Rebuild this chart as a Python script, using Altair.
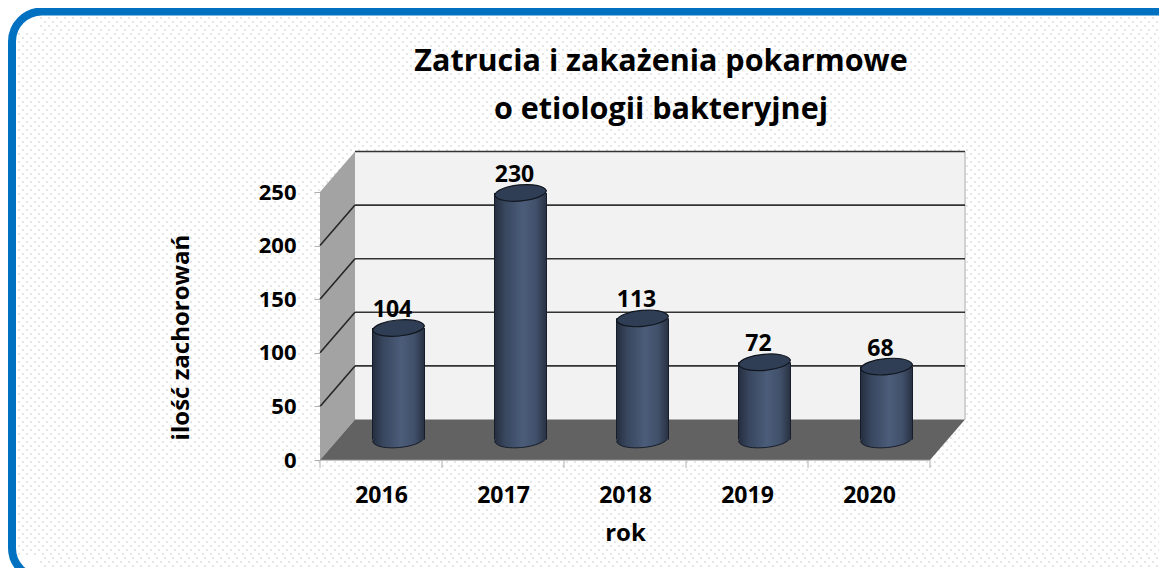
import altair as alt
import pandas as pd

years = ["2016", "2017", "2018", "2019", "2020"]
cases = [104, 230, 113, 72, 68]
grid_values = [50, 100, 150, 200, 250]
title_lines = ["Zatrucia i zakażenia pokarmowe", "o etiologii bakteryjnej"]
FONT = "Open Sans"

# geometry helpers: page pixel -> data units
PX_X, PX_Y = 122.0, 268.0 / 250.0
LEFT, BASE = 320.0, 460.0
def ux(p): return (p - LEFT) / PX_X
def uy(p): return (BASE - p) / PX_Y
DX, DY = 35 / PX_X, 40.5 / PX_Y
BW = 26 / PX_X
BASEV = 20.5 / PX_Y

sx = alt.Scale(domain=[0, 5], nice=False, zero=False)
sy = alt.Scale(domain=[0, 250], nice=False, zero=False)
tick_y = alt.Axis(values=[0] + grid_values, title="ilość zachorowań", domain=False,
                  grid=False, tickColor="#b0b0b0", tickSize=6, labelPadding=18, labelFont=FONT,
                  labelFontSize=22, labelFontWeight="bold", labelColor="black", titleFont=FONT,
                  titleFontSize=24, titleFontWeight="bold", titleColor="black", titlePadding=65,
                  titleY=145, zindex=1, labelOverlap=False)
tick_x = alt.Axis(values=[i + 0.5 for i in range(len(years))], title="rok", domain=False, grid=False,
                  ticks=False, labelPadding=24, labelFont=FONT, labelFontSize=23, labelFontWeight="bold",
                  labelColor="black", titleFont=FONT, titleFontSize=24, titleFontWeight="bold",
                  titleColor="black", titlePadding=14, zindex=1,
                  labelExpr="[" + ",".join(f"'{y}'" for y in years) + "][floor(datum.value)]")
X = lambda f="x": alt.X(f + ":Q", scale=sx, axis=tick_x)
Y = lambda f="y": alt.Y(f + ":Q", scale=sy, axis=tick_y)

def rect(df, **mk):
    return alt.Chart(pd.DataFrame(df)).mark_rect(**mk).encode(
        x=X("x"), x2="x2:Q", y=Y("y"), y2="y2:Q")

# page
page = {"x": [ux(12)], "x2": [ux(1300)], "y": [uy(11.5)], "y2": [uy(578)]}
bg = rect(page, fill="white", cornerRadius=30)
rows = []
for i, p in enumerate(range(18, 576, 4)):
    start = 40 if (p < 32 or p > 556) else 18
    rows.append({"x": ux(start + (4 if i % 2 else 0)), "x2": ux(1170), "y": uy(p)})
dots = alt.Chart(pd.DataFrame(rows)).mark_rule(
    stroke="#e6e6e6", strokeWidth=2, strokeDash=[2, 6]).encode(x=X("x"), x2="x2:Q", y=Y("y"))
border = rect(page, fill="transparent", stroke="#0070c0", strokeWidth=8, cornerRadius=30)

# walls
back = rect({"x": [DX], "x2": [5 + DX], "y": [DY], "y2": [250 + DY]}, fill="#f2f2f2")
right_edge = alt.Chart(pd.DataFrame({"x": [5 + DX], "y": [DY], "y2": [250 + DY]})).mark_rule(
    stroke="#c4c4c4", strokeWidth=1.5).encode(x=X("x"), y=Y("y"), y2="y2:Q")
side = alt.Chart(pd.DataFrame({"x": [0, DX], "y": [0, DY], "y2": [250, 250 + DY]})).mark_area(
    color="#a3a3a3").encode(x=X("x"), y=Y("y"), y2="y2:Q")
floor = alt.Chart(pd.DataFrame({
    "x": [0, DX, 5, 5 + DX], "y": [0, 0, 0, DY], "y2": [0, DY, DY, DY]})).mark_area(
    color="#626262").encode(x=X("x"), y=Y("y"), y2="y2:Q")
front_base = alt.Chart(pd.DataFrame({"x": [0], "x2": [5], "y": [0]})).mark_rule(
    stroke="#8c8c8c", strokeWidth=1).encode(x=X("x"), x2="x2:Q", y=Y("y"))
xt = pd.DataFrame({"x": list(range(6)), "y": [0] * 6, "y2": [-8 / PX_Y] * 6})
xticks = alt.Chart(xt).mark_rule(stroke="#b0b0b0").encode(x=X("x"), y=Y("y"), y2="y2:Q")

gl = alt.Chart(pd.DataFrame({"x": [DX] * 5, "x2": [5 + DX] * 5, "y": [v + DY for v in grid_values]})).mark_rule(
    stroke="#333333", strokeWidth=1.6).encode(x=X("x"), x2="x2:Q", y=Y("y"))
diag_rows = []
for v in grid_values[:-1]:
    diag_rows += [{"x": 0, "y": v, "g": v}, {"x": DX, "y": v + DY, "g": v}]
diag = alt.Chart(pd.DataFrame(diag_rows)).mark_line(stroke="#262626", strokeWidth=1.6).encode(
    x=X("x"), y=Y("y"), detail="g:N")

# cylinders
grad = alt.Gradient(gradient="linear", x1=0, x2=1, y1=0, y2=0, stops=[
    alt.GradientStop(color="#252e3f", offset=0),
    alt.GradientStop(color="#38465e", offset=0.2),
    alt.GradientStop(color="#4b5d7a", offset=0.55),
    alt.GradientStop(color="#41506a", offset=0.8),
    alt.GradientStop(color="#283142", offset=1)])
ELL = "M-0.996,0.087 C-0.9,-0.32 0.8,-0.5 0.996,-0.087 C0.9,0.32 -0.8,0.5 -0.996,0.087 Z"
cx = [i + 0.5 + DX / 2 for i in range(len(years))]
cyl = pd.DataFrame({
    "x": [c - BW for c in cx], "x2": [c + BW for c in cx], "cx": cx,
    "y": [BASEV] * len(cx), "y2": [v + BASEV for v in cases],
    "lab": [c - 6 / PX_X for c in cx], "ly": [v + BASEV + 18 / PX_Y for v in cases],
    "v": cases})
bottoms = alt.Chart(cyl).mark_point(shape=ELL, size=2704, filled=True, fill=grad, stroke="#161d2a",
                                    strokeWidth=1, opacity=1).encode(x=X("cx"), y=Y("y"))
bodies = alt.Chart(cyl).mark_rect(fill=grad).encode(x=X("x"), x2="x2:Q", y=Y("y"), y2="y2:Q")
sides_l = alt.Chart(cyl).mark_rule(stroke="#161d2a", strokeWidth=1).encode(x=X("x"), y=Y("y"), y2="y2:Q")
sides_r = alt.Chart(cyl).mark_rule(stroke="#161d2a", strokeWidth=1).encode(x=X("x2"), y=Y("y"), y2="y2:Q")
tops = alt.Chart(cyl).mark_point(shape=ELL, size=2704, filled=True, fill="#2f3e55", stroke="#11161f",
                                 strokeWidth=1.2, opacity=1).encode(x=X("cx"), y=Y("y2"))
labels = alt.Chart(cyl).mark_text(font=FONT, fontSize=23, fontWeight="bold", color="black").encode(
    x=X("lab"), y=Y("ly"), text="v:Q")
head = pd.DataFrame({"t": title_lines, "x": [ux(661)] * 2, "y": [uy(62), uy(110)]})
heading = alt.Chart(head).mark_text(font=FONT, fontSize=30.5, fontWeight="bold", color="black").encode(
    x=X("x"), y=Y("y"), text="t:N")

chart = alt.layer(bg, dots, border, back, right_edge, side, floor, front_base, xticks, gl, diag,
                  bottoms, bodies, sides_l, sides_r, tops, labels, heading).properties(
    width=610, height=268,
    padding={"left": 312, "top": 184, "right": 229, "bottom": 108},
    autosize=alt.AutoSizeParams(type="none"),
).configure_view(stroke=None)

chart.save("out.html", embed_options={"renderer": "svg", "actions": False})
